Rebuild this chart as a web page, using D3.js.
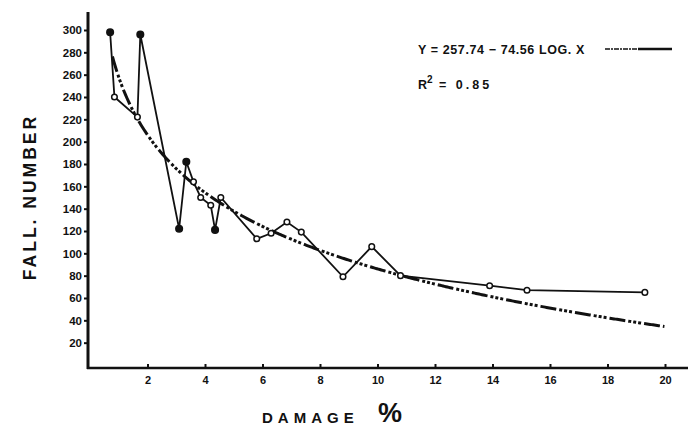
<!DOCTYPE html>
<html>
<head>
<meta charset="utf-8">
<script src="https://cdn.jsdelivr.net/npm/d3@7"></script>
<style>
  body { margin: 0; background: #fff; }
  text { font-family: "Liberation Sans", Arial, sans-serif; font-weight: bold; fill: #111; }
</style>
</head>
<body>
<div class="viz"></div>
<script>
// damage % vs falling number
const damage = [0.7, 0.85, 1.65, 1.75, 3.1, 3.35, 3.6, 3.85, 4.2, 4.35, 4.55, 5.8, 6.3, 6.85, 7.35, 8.8, 9.8, 10.8, 13.9, 15.2, 19.3];
const fallNumber = [298, 240, 222, 296, 122, 182, 164, 150, 143, 121, 150, 113, 118, 128, 119, 79, 106, 80, 71, 67, 65];
const filled = [true, false, false, true, true, true, false, false, false, true, false, false, false, false, false, false, false, false, false, false, false];
const xTicks = [2, 4, 6, 8, 10, 12, 14, 16, 18, 20];
const yTicks = [20, 40, 60, 80, 100, 120, 140, 160, 180, 200, 220, 240, 260, 280, 300];
// regression Y = 257.74 - 74.56 log X (natural log fits the drawn curve)
const fitA = 257.74, fitB = 74.56;
const fitRange = [0.78, 20];

const width = 688, height = 429;
const svg = d3.select('.viz').append('svg')
    .attr('width', width)
    .attr('height', height);

const x = d3.scaleLinear().domain([0, 20]).range([90, 665]);
const y = d3.scaleLinear().domain([0, 300]).range([365, 30]);

// axes
const yAxis = g => g
    .attr("transform", "translate(88,0)")
    .call(d3.axisLeft(y).tickValues(yTicks).tickSize(4).tickPadding(2).tickSizeOuter(0))
    .call(g => g.select(".domain").remove());

const xAxis = g => g
    .attr("transform", "translate(0,368)")
    .call(d3.axisBottom(x).tickValues(xTicks).tickSize(-4).tickPadding(8).tickSizeOuter(0))
    .call(g => g.select(".domain").remove());

svg.append("g").call(yAxis)
    .call(g => g.selectAll("text").attr("font-size", 11.5).attr("fill", "#111"))
    .call(g => g.selectAll("line").attr("stroke", "#111").attr("stroke-width", 2));
svg.append("g").call(xAxis)
    .call(g => g.selectAll("text").attr("font-size", 11).attr("fill", "#111"))
    .call(g => g.selectAll("line").attr("stroke", "#111").attr("stroke-width", 2));

svg.append("line").attr("x1", 88).attr("x2", 88).attr("y1", 12).attr("y2", 369)
    .attr("stroke", "#111").attr("stroke-width", 3);
svg.append("line").attr("x1", 87).attr("x2", 688).attr("y1", 368).attr("y2", 368)
    .attr("stroke", "#111").attr("stroke-width", 2.5);

// regression curve
const fitX = d3.range(fitRange[0], fitRange[1] + 0.001, 0.05);
svg.append("path")
    .datum(fitX)
    .attr("fill", "none")
    .attr("stroke", "#111")
    .attr("stroke-width", 3)
    .attr("stroke-dasharray", "16,3,3,2,3,2,3,3")
    .attr("d", d3.line().x(d => x(d)).y(d => y(fitA - fitB * Math.log(d))));

// observed values
const pts = damage.map((d, i) => ({x: d, y: fallNumber[i], f: filled[i]}));
svg.append("path")
    .datum(pts)
    .attr("fill", "none")
    .attr("stroke", "#111")
    .attr("stroke-width", 1.8)
    .attr("d", d3.line().x(d => x(d.x)).y(d => y(d.y)));

svg.append("g")
  .selectAll("circle").data(pts).enter().append("circle")
    .attr("cx", d => x(d.x))
    .attr("cy", d => y(d.y))
    .attr("r", d => d.f ? 3.3 : 2.8)
    .attr("fill", d => d.f ? "#111" : "#fff")
    .attr("stroke", "#111")
    .attr("stroke-width", 1.5);

// legend
svg.append("text").attr("x", 418).attr("y", 54).attr("font-size", 12.5)
    .attr("letter-spacing", 0.6)
    .text("Y = 257.74 \u2212 74.56 LOG. X");
svg.append("line").attr("x1", 605).attr("x2", 637).attr("y1", 49).attr("y2", 49)
    .attr("stroke", "#111").attr("stroke-width", 1.5).attr("stroke-dasharray", "5,1,2,1");
svg.append("line").attr("x1", 638).attr("x2", 672).attr("y1", 49).attr("y2", 49)
    .attr("stroke", "#111").attr("stroke-width", 2.5);
const r2 = svg.append("text").attr("x", 418).attr("y", 89).attr("font-size", 12.5);
r2.append("tspan").text("R");
r2.append("tspan").attr("dy", -6).attr("font-size", 10).text("2");
r2.append("tspan").attr("dy", 6).attr("letter-spacing", 3).text(" = 0.85");

// axis titles
svg.append("text")
    .attr("transform", "translate(36,197) rotate(-90)")
    .attr("text-anchor", "middle")
    .attr("font-size", 17.5)
    .attr("letter-spacing", 3)
    .text("FALL.  NUMBER");
svg.append("text").attr("x", 262).attr("y", 423).attr("font-size", 15)
    .attr("letter-spacing", 5)
    .text("DAMAGE");
svg.append("text").attr("x", 378).attr("y", 422).attr("font-size", 27)
    .attr("font-weight", "normal")
    .text("%");
</script>
</body>
</html>
